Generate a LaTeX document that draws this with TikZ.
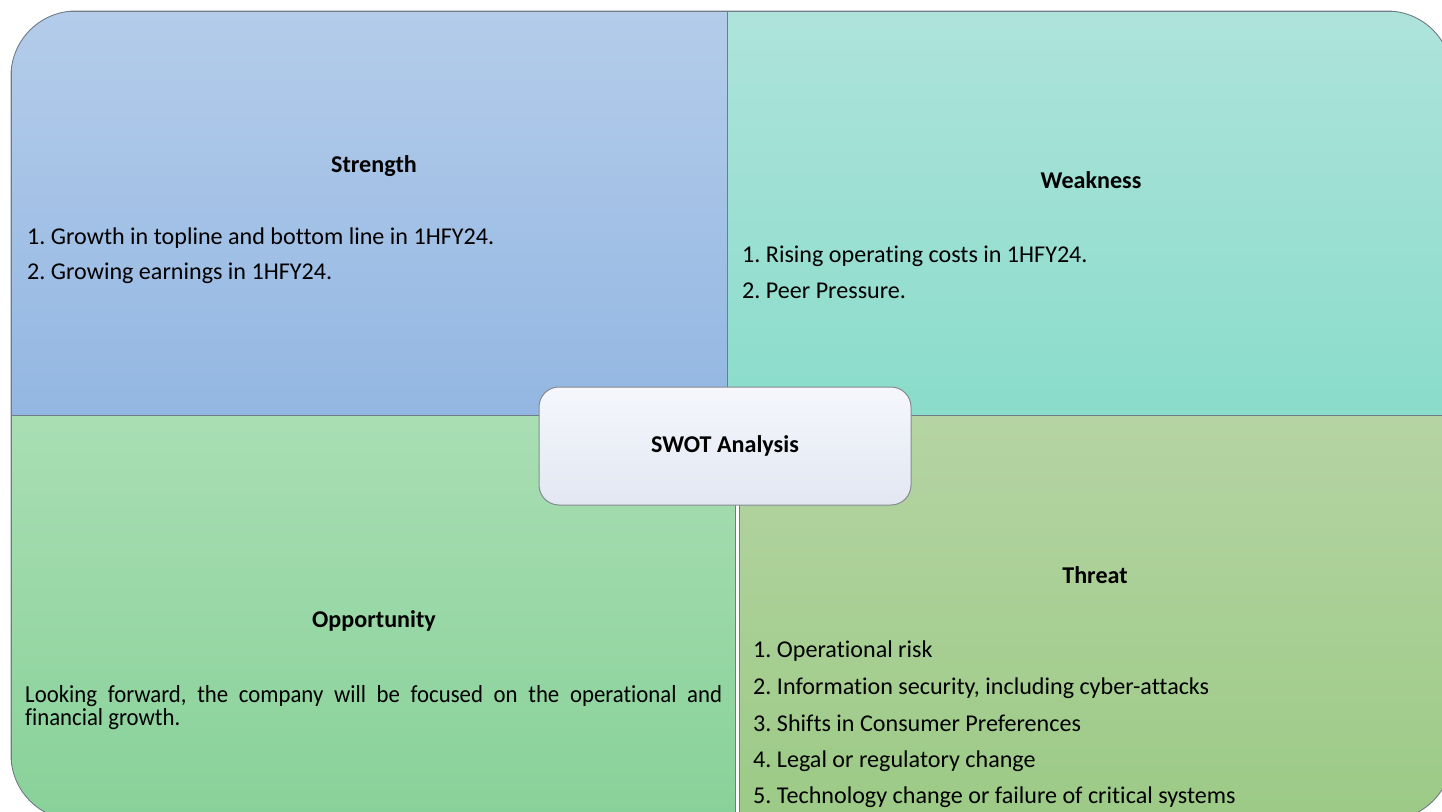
\documentclass[tikz,border=0pt]{standalone}
\usepackage{fontspec}
\setmainfont{Carlito}[Ligatures={NoCommon,NoContextual}]
\newfontfamily\narrowfont{Carlito}[FakeStretch=0.93,Ligatures={NoCommon,NoContextual}]
\definecolor{tlTop}{HTML}{B4CCEA}
\definecolor{tlBot}{HTML}{93B7E2}
\definecolor{trTop}{HTML}{AEE3DB}
\definecolor{trBot}{HTML}{8ADCCB}
\definecolor{blTop}{HTML}{A9DEB3}
\definecolor{blBot}{HTML}{88D199}
\definecolor{brTop}{HTML}{B5D4A3}
\definecolor{brBot}{HTML}{9CCA86}
\definecolor{edgegray}{HTML}{6F7C88}
\definecolor{boxTop}{HTML}{F5F7FC}
\definecolor{boxBot}{HTML}{E2E7F2}
\definecolor{boxEdge}{HTML}{858A90}
\frenchspacing
\begin{document}
\begin{tikzpicture}[x=1pt,y=-1pt,
  quadedge/.style={draw=edgegray, line width=0.9pt},
  head/.style={font=\fontsize{24.1}{28}\selectfont\bfseries, anchor=base, inner sep=0pt},
  item/.style={font=\fontsize{24.1}{28}\selectfont, anchor=base west, inner sep=0pt},
  narrowitem/.style={font=\narrowfont\fontsize{24.5}{24}\selectfont, anchor=base west, inner sep=0pt},
  swotbox/.style={draw=boxEdge, line width=1pt, rounded corners=20pt,
    top color=boxTop, bottom color=boxBot,
    minimum width=372pt, minimum height=118pt, inner sep=0pt,
    font=\fontsize{24.1}{28}\selectfont\bfseries}]
\useasboundingbox (0,0) rectangle (1442,811);

% four quadrants inside one rounded frame
\begin{scope}
  \clip[rounded corners=65pt] (11,11) rectangle (1452,820);
  \shade[top color=tlTop, bottom color=tlBot] (11,11) rectangle (727,415);
  \shade[top color=trTop, bottom color=trBot] (727,11) rectangle (1452,415);
  \shade[top color=blTop, bottom color=blBot] (11,415) rectangle (735,820);
  \shade[top color=brTop, bottom color=brBot] (739,415) rectangle (1452,820);
  \draw[quadedge] (11,11) rectangle (727,415);
  \draw[quadedge] (727,11) rectangle (1452,415);
  \draw[quadedge] (11,415) rectangle (735,820);
  \draw[quadedge] (739,415) rectangle (1452,820);
\end{scope}
\draw[quadedge, rounded corners=65pt] (11,11) rectangle (1452,820);

% Strength
\node[head] (shead) at (374,172) {Strength};
\node[item] (s1) at (27,244) {1. Growth in topline and bottom line in 1HFY24.};
\node[item] (s2) at (27,279) {2. Growing earnings in 1HFY24.};

% Weakness
\node[head] (whead) at (1091,188) {Weakness};
\node[item] (w1) at (742,262) {1. Rising operating costs in 1HFY24.};
\node[item] (w2) at (742,298) {2. Peer Pressure.};

% Opportunity
\node[head] (ohead) at (374,627) {Opportunity};
\node[narrowitem] (o1) at (25,702) {\makebox[697pt][s]{Looking forward, the company will be focused on the operational and}};
\node[narrowitem] (o2) at (25,725) {financial growth.};

% Threat
\node[head] (thead) at (1095,583) {Threat};
\node[item] (t1) at (753,657) {1. Operational risk};
\node[item] (t2) at (753,694) {2. Information security, including cyber-attacks};
\node[item] (t3) at (753,731) {3. Shifts in Consumer Preferences};
\node[item] (t4) at (753,767) {4. Legal or regulatory change};
\node[item] (t5) at (753,803) {5. Technology change or failure of critical systems};

% centre label
\node[swotbox] (swot) at (725,446) {SWOT Analysis};
\end{tikzpicture}
\end{document}
